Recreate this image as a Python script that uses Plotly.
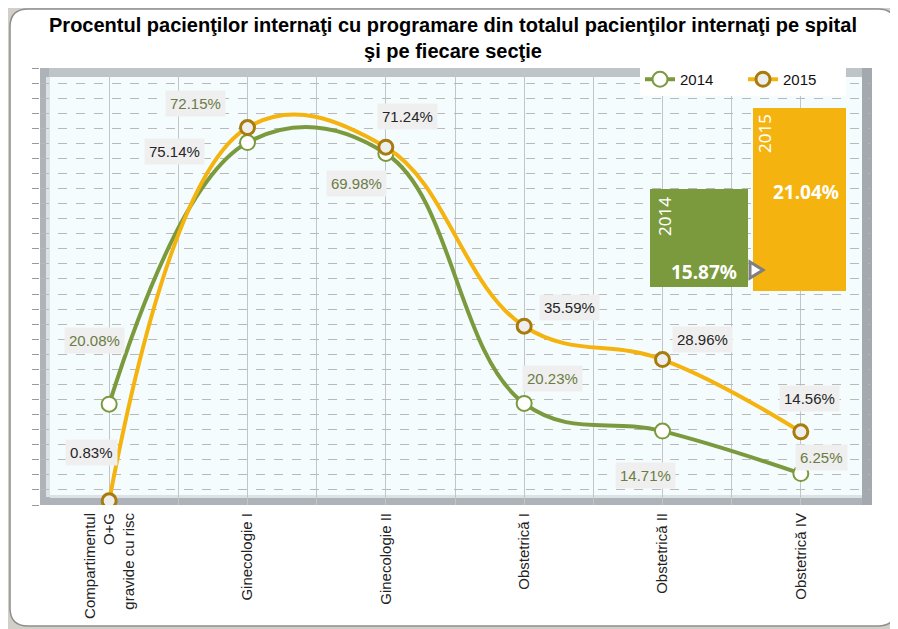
import plotly.graph_objects as go

# data
categories = ["Compartimentul<br>O+G<br>gravide cu risc", "Ginecologie I", "Ginecologie II",
              "Obstetrică I", "Obstetrică II", "Obstetrică IV"]
values_2014 = [20.08, 72.15, 69.98, 20.23, 14.71, 6.25]
values_2015 = [0.83, 75.14, 71.24, 35.59, 28.96, 14.56]
series_names = ["2014", "2015"]
hospital_totals = [15.87, 21.04]
title_text = "Procentul pacienţilor internaţi cu programare din totalul pacienţilor internaţi pe spital<br>şi pe fiecare secţie"

# label offsets (pixels) so the boxes sit where the original has them
shifts_2014 = [(-15, 64), (-52, 39), (-29, -30), (28, 25), (-17, -44), (21, 16)]
shifts_2015 = [(-18, 48), (-73, -24), (22, 31), (45, 19), (40, 20), (9, 33)]

GREEN = "#7b9a3d"
ORANGE = "#f5b30f"
FONT = "Liberation Sans, Arial, sans-serif"

# the page body has an 8px margin, so the figure starts at (8, 8) on screen
OFF = 8
W, H = 898 - OFF, 629 - OFF
# plot area in screen pixels: x 40..870, y 68..505
L, R, T, B = 40, 870, 68, 505


def px(x):
    '''screen x -> paper x'''
    return (x - L) / (R - L)


def py(y):
    '''screen y -> paper y'''
    return (B - y) / (B - T)


def rect(x0, y0, x1, y1, fill, layer="below"):
    return dict(type="rect", xref="paper", yref="paper", x0=px(x0), x1=px(x1), y0=py(y1), y1=py(y0),
                fillcolor=fill, line=dict(color=fill, width=0), layer=layer)


def rounded(x0, y0, x1, y1, r):
    pts = [
        f"M {px(x0 + r)} {py(y0)}", f"L {px(x1 - r)} {py(y0)}", f"Q {px(x1)} {py(y0)} {px(x1)} {py(y0 + r)}",
        f"L {px(x1)} {py(y1 - r)}", f"Q {px(x1)} {py(y1)} {px(x1 - r)} {py(y1)}",
        f"L {px(x0 + r)} {py(y1)}", f"Q {px(x0)} {py(y1)} {px(x0)} {py(y1 - r)}",
        f"L {px(x0)} {py(y0 + r)}", f"Q {px(x0)} {py(y0)} {px(x0 + r)} {py(y0)}", "Z",
    ]
    return " ".join(pts)


xs = list(range(len(categories)))

fig = go.Figure()
fig.add_trace(go.Scatter(
    x=xs, y=values_2014, name=series_names[0], mode="lines+markers",
    line=dict(color=GREEN, width=4, shape="spline", smoothing=1.15),
    marker=dict(size=15, color="white", line=dict(color=GREEN, width=2)),
))
fig.add_trace(go.Scatter(
    x=xs, y=values_2015, name=series_names[1], mode="lines+markers",
    line=dict(color=ORANGE, width=4, shape="spline", smoothing=1.15),
    marker=dict(size=14, color="#eeeeee", line=dict(color="#a87c0c", width=3)),
))

shapes = [
    # card
    dict(type="path", xref="paper", yref="paper", path=rounded(10, 9, 896, 626, 18),
         fillcolor="white", line=dict(color="#8e8e8e", width=1.5), layer="below"),
    # 3d walls of the plot area
    rect(L, T, R, 77, "#bfc4c8"),
    rect(L, T, 49, B, "#adb3b8"),
    rect(46, 77, 50, 497, "#dde2e6"),
    rect(L, 497, R, B, "#adb3b8"),
    rect(50, 495, 862, 498, "#dde2e6"),
    rect(862, T, 872, B, "#a3a9ae"),
    rect(50, 77, 862, 495, "#f4fcfd"),
    # summary boxes for the whole hospital
    rect(650, 189, 748, 287, GREEN, layer="above"),
    rect(753, 108, 846, 291, ORANGE, layer="above"),
    dict(type="path", xref="paper", yref="paper", layer="above",
         path=f"M {px(750)} {py(262)} L {px(763)} {py(270)} L {px(750)} {py(278)} Z",
         fillcolor="white", line=dict(color="#7f7f7f", width=3)),
]

annotations = []
for i, v in enumerate(values_2014):
    annotations.append(dict(x=xs[i], y=v, text=f"{v:.2f}%", showarrow=False,
                            xshift=shifts_2014[i][0], yshift=shifts_2014[i][1],
                            font=dict(family=FONT, size=15, color="#6b7b45"),
                            bgcolor="#efefef", borderpad=4))
for i, v in enumerate(values_2015):
    annotations.append(dict(x=xs[i], y=v, text=f"{v:.2f}%", showarrow=False,
                            xshift=shifts_2015[i][0], yshift=shifts_2015[i][1],
                            font=dict(family=FONT, size=15, color="#262626"),
                            bgcolor="#efefef", borderpad=4))

# texts inside the summary boxes
box_year_pos = [(664, 217), (765, 134)]
box_value_pos = [(704, 272), (806, 192)]
for name, total, (yx, yy), (vx, vy) in zip(series_names, hospital_totals, box_year_pos, box_value_pos):
    annotations.append(dict(xref="paper", yref="paper", x=px(yx), y=py(yy), text=name, showarrow=False,
                            xanchor="center", yanchor="middle", textangle=-90,
                            font=dict(family="Noto Sans", size=17, color="white")))
    annotations.append(dict(xref="paper", yref="paper", x=px(vx), y=py(vy), text=f"<b>{total:.2f}%</b>",
                            xanchor="center", yanchor="middle", showarrow=False,
                            font=dict(family="Noto Sans", size=19, color="white")))

fig.update_layout(
    width=W, height=H,
    margin=dict(l=L - OFF, r=898 - R, t=T - OFF, b=629 - B, autoexpand=False),
    paper_bgcolor="#d2cfc8",
    plot_bgcolor="rgba(0,0,0,0)",
    title=dict(text=f"<b>{title_text}</b>", x=0.5, xanchor="center", xref="container",
               y=1 - 24 / H, yref="container", yanchor="top",
               font=dict(family=FONT, size=20, color="black")),
    font=dict(family=FONT, color="#222222"),
    showlegend=True,
    legend=dict(orientation="h", x=px(640), y=py(63), xanchor="left", yanchor="top",
                bgcolor="white", font=dict(family=FONT, size=15, color="#111111"),
                itemwidth=30, tracegroupgap=0, entrywidth=58),
    shapes=shapes,
    annotations=annotations,
)
fig.update_xaxes(
    range=[-0.5, len(categories) - 0.5], tickvals=xs, ticktext=categories, tickangle=-90,
    tickfont=dict(family=FONT, size=15, color="#222222"),
    showgrid=True, gridcolor="#c3c6c8", gridwidth=1,
    minor=dict(tickvals=[i + 0.5 for i in xs[:-1]], showgrid=True, gridcolor="#c3c6c8", gridwidth=1),
    zeroline=False, showline=False, ticks="", ticklabelstandoff=4,
)
fig.update_yaxes(
    range=[0, 87], dtick=3, showticklabels=False, ticks="outside", ticklen=7, tickcolor="#9a9a9a",
    showgrid=True, gridcolor="#b9b9b9", griddash="dash", gridwidth=1,
    zeroline=False, showline=False,
)

fig.write_html("out.html")
